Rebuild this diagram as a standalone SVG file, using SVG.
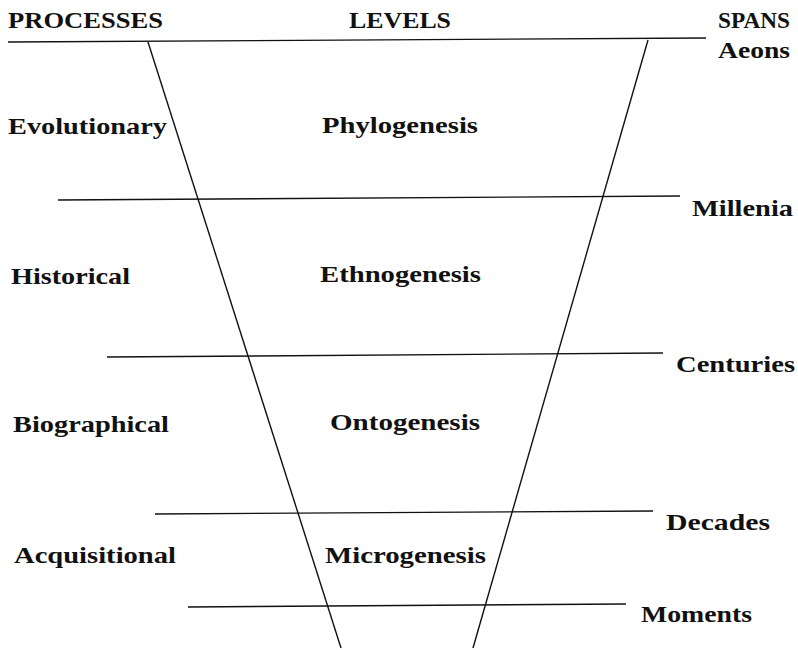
<svg xmlns="http://www.w3.org/2000/svg" width="798" height="650" viewBox="0 0 798 650">
<style>
text{font-family:"Liberation Serif","Times New Roman",serif;font-weight:bold;font-size:24px;fill:#111}
.ln{stroke:#111;stroke-width:1.4;fill:none}
</style>
<rect width="798" height="650" fill="#fff"/>
<g id="connectors">
<line class="ln" x1="8" y1="42" x2="706" y2="38"/>
<line class="ln" x1="58" y1="200" x2="680" y2="196"/>
<line class="ln" x1="107" y1="357" x2="663" y2="353"/>
<line class="ln" x1="155" y1="514" x2="653" y2="511"/>
<line class="ln" x1="188" y1="607" x2="626" y2="604"/>
<line class="ln" x1="148" y1="42" x2="341" y2="648"/>
<line class="ln" x1="648" y1="40" x2="473" y2="648"/>
</g>
<g id="headers">
<text x="8" y="28" textLength="155" lengthAdjust="spacingAndGlyphs">PROCESSES</text>
<text x="349" y="28" textLength="102" lengthAdjust="spacingAndGlyphs">LEVELS</text>
<text x="718" y="28" textLength="72" lengthAdjust="spacingAndGlyphs">SPANS</text>
</g>
<g id="spans">
<text x="718" y="58" textLength="72" lengthAdjust="spacingAndGlyphs">Aeons</text>
<text x="692" y="216" textLength="101" lengthAdjust="spacingAndGlyphs">Millenia</text>
<text x="676" y="372" textLength="119" lengthAdjust="spacingAndGlyphs">Centuries</text>
<text x="666" y="530" textLength="104" lengthAdjust="spacingAndGlyphs">Decades</text>
<text x="641" y="622" textLength="111" lengthAdjust="spacingAndGlyphs">Moments</text>
</g>
<g id="processes">
<text x="8" y="134" textLength="159" lengthAdjust="spacingAndGlyphs">Evolutionary</text>
<text x="11" y="284" textLength="119" lengthAdjust="spacingAndGlyphs">Historical</text>
<text x="13" y="432" textLength="156" lengthAdjust="spacingAndGlyphs">Biographical</text>
<text x="14" y="563" textLength="162" lengthAdjust="spacingAndGlyphs">Acquisitional</text>
</g>
<g id="levels">
<text x="322" y="133" textLength="156" lengthAdjust="spacingAndGlyphs">Phylogenesis</text>
<text x="320" y="282" textLength="161" lengthAdjust="spacingAndGlyphs">Ethnogenesis</text>
<text x="330" y="430" textLength="150" lengthAdjust="spacingAndGlyphs">Ontogenesis</text>
<text x="325" y="563" textLength="161" lengthAdjust="spacingAndGlyphs">Microgenesis</text>
</g>
</svg>
